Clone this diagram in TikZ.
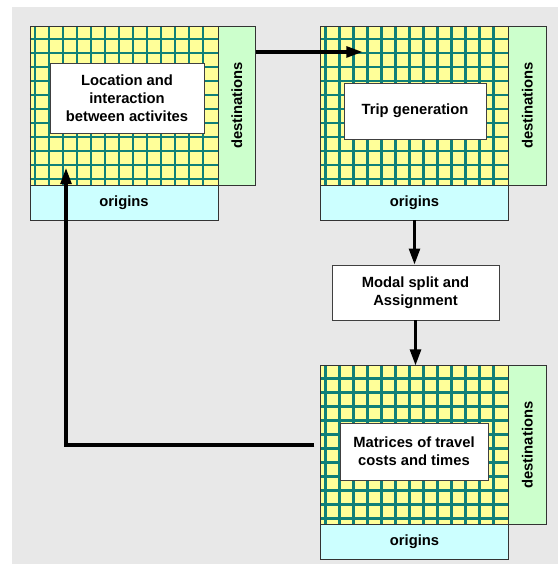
\documentclass[tikz,border=0pt]{standalone}
\usepackage{fontspec}
\setmainfont{Liberation Sans}
\usepackage{graphicx}
\usepackage{xcolor}
\usepackage{tikz}
\usetikzlibrary{arrows.meta, positioning, calc}

\definecolor{gridyellow}{RGB}{255,255,153}
\definecolor{gridteal}{RGB}{16,128,120}
\definecolor{destgreen}{RGB}{204,255,204}
\definecolor{origcyan}{RGB}{204,255,255}
\definecolor{bggray}{RGB}{232,232,232}

\begin{document}
\begin{tikzpicture}[
    x=0.025cm, y=-0.025cm,
    every node/.style={font=\fontsize{10.5}{12.8}\selectfont\bfseries},
    matrixgrid/.style={rectangle, draw=black!80, fill=gridyellow, minimum width=4.7cm, minimum height=3.975cm, inner sep=0pt, outer sep=0pt},
    destbar/.style={rectangle, draw=black!80, fill=destgreen, minimum width=0.94cm, minimum height=3.975cm, inner sep=0pt, outer sep=0pt},
    origbar/.style={rectangle, draw=black!80, fill=origcyan, minimum width=4.7cm, minimum height=0.875cm, inner sep=0pt, outer sep=0pt},
    stepbox/.style={rectangle, draw=black!75, line width=0.6pt, fill=white, align=center, inner sep=0pt},
    gline/.style={draw=gridteal, line width=1.6pt},
    arr/.style={-{Triangle[length=0.4cm, width=0.27cm]}, line width=2.2pt}
]
\useasboundingbox (0,0) rectangle (558,564);
\fill[bggray] (12,7) rectangle (558,564);

% matrices
\node[matrixgrid] (grid1) at (124,105.5) {};
\node[matrixgrid] (grid2) at (414.5,105.5) {};
\node[matrixgrid] (grid3) at (414.5,445) {};

\foreach \g in {grid1,grid2,grid3} {
  \foreach \i in {0,...,12}
    \draw[gline] ($(\g.north west)+(5+14*\i,0)$) -- ($(\g.south west)+(5+14*\i,0)$);
  \foreach \j in {0,...,10}
    \draw[gline] ($(\g.north west)+(0,13+14*\j)$) -- ($(\g.north east)+(0,13+14*\j)$);
  \draw[black!80] (\g.north west) rectangle (\g.south east);
}

\node[destbar, right=0pt of grid1] (dest1) {\rotatebox{90}{destinations}};
\node[origbar, below=0pt of grid1] (orig1) {origins};
\node[destbar, right=0pt of grid2] (dest2) {\rotatebox{90}{destinations}};
\node[origbar, below=0pt of grid2] (orig2) {origins};
\node[destbar, right=0pt of grid3] (dest3) {\rotatebox{90}{destinations}};
\node[origbar, below=0pt of grid3] (orig3) {origins};

% steps
\node[stepbox, minimum width=3.85cm, minimum height=1.75cm] (locate) at (127,98) {Location and\\interaction\\between activites};
\node[stepbox, minimum width=3.55cm, minimum height=1.4cm] (tripgen) at (415,111) {Trip generation};
\node[stepbox, minimum width=4.175cm, minimum height=1.375cm] (modal) at (415.5,292.5) {Modal split and\\Assignment};
\node[stepbox, minimum width=3.7cm, minimum height=1.425cm] (costs) at (414,451.5) {Matrices of travel\\costs and times};

\coordinate (in2) at ($(grid2.north west)+(42,26)$);
\coordinate (in1) at (66,168);

\draw[arr] ($(dest1.north east)+(0,26)$) -- (in2);
\draw[arr] (orig2.south) -- (orig2.south |- modal.north);
\draw[arr] (modal.south) -- (modal.south |- grid3.north);
\draw[arr, shorten <=0.15cm] (grid3.west) -| (in1);
\end{tikzpicture}
\end{document}
